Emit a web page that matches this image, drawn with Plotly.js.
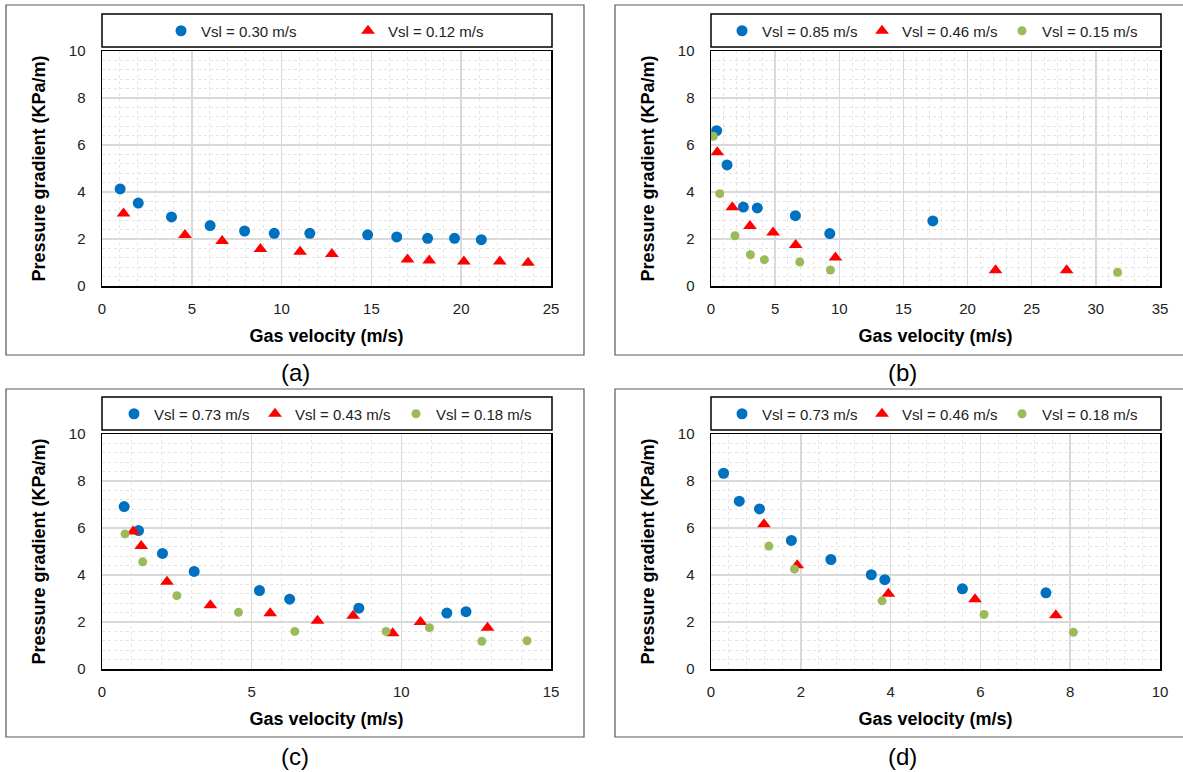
<!DOCTYPE html>
<html><head><meta charset="utf-8">
<script src="https://cdn.plot.ly/plotly-3.0.1.min.js"></script>
<style>html,body{margin:0;padding:0;background:#fff}#chart{width:1183px;height:772px}</style>
</head><body><div id="chart"></div>
<script>
// ---- Panel (a) ----
const aLabels = ['Vsl = 0.30 m/s', 'Vsl = 0.12 m/s'];
const aBlueX = [1.01, 2.02, 3.87, 6.02, 7.94, 9.59, 11.57, 14.79, 16.41, 18.13, 19.63, 21.12];
const aBlueY = [4.13, 3.53, 2.94, 2.57, 2.34, 2.24, 2.24, 2.18, 2.09, 2.03, 2.03, 1.97];
const aRedX = [1.20, 4.62, 6.69, 8.82, 11.03, 12.80, 17.01, 18.22, 20.15, 22.15, 23.72];
const aRedY = [3.09, 2.17, 1.91, 1.57, 1.46, 1.36, 1.13, 1.09, 1.04, 1.04, 0.99];

// ---- Panel (b) ----
const bLabels = ['Vsl = 0.85 m/s', 'Vsl = 0.46 m/s', 'Vsl = 0.15 m/s'];
const bBlueX = [0.44, 1.25, 2.52, 3.61, 6.58, 9.26, 17.29];
const bBlueY = [6.61, 5.15, 3.36, 3.32, 2.99, 2.23, 2.77];
const bRedX = [0.49, 1.66, 3.04, 4.84, 6.60, 9.70, 22.18, 27.72];
const bRedY = [5.69, 3.35, 2.55, 2.28, 1.74, 1.21, 0.67, 0.67];
const bGreenX = [0.18, 0.68, 1.87, 3.07, 4.16, 6.92, 9.31, 31.69];
const bGreenY = [6.37, 3.93, 2.14, 1.33, 1.12, 1.02, 0.68, 0.58];

// ---- Panel (c) ----
const cLabels = ['Vsl = 0.73 m/s', 'Vsl = 0.43 m/s', 'Vsl = 0.18 m/s'];
const cBlueX = [0.74, 1.22, 2.02, 3.08, 5.26, 6.27, 8.58, 11.52, 12.16];
const cBlueY = [6.91, 5.89, 4.92, 4.15, 3.34, 2.97, 2.59, 2.38, 2.44];
const cRedX = [1.04, 1.31, 2.17, 3.62, 5.62, 7.20, 8.39, 9.71, 10.64, 12.88];
const cRedY = [5.85, 5.23, 3.71, 2.71, 2.37, 2.05, 2.27, 1.52, 2.00, 1.75];
const cGreenX = [0.77, 1.36, 2.50, 4.56, 6.44, 9.49, 10.94, 12.69, 14.20];
const cGreenY = [5.75, 4.56, 3.12, 2.41, 1.60, 1.60, 1.76, 1.18, 1.20];

// ---- Panel (d) ----
const dLabels = ['Vsl = 0.73 m/s', 'Vsl = 0.46 m/s', 'Vsl = 0.18 m/s'];
const dBlueX = [0.28, 0.63, 1.08, 1.79, 2.67, 3.57, 3.87, 5.60, 7.46];
const dBlueY = [8.33, 7.14, 6.81, 5.47, 4.66, 4.01, 3.80, 3.41, 3.24];
const dRedX = [1.18, 1.92, 3.95, 5.88, 7.68];
const dRedY = [6.16, 4.41, 3.20, 2.97, 2.29];
const dGreenX = [1.29, 1.86, 3.81, 6.08, 8.07];
const dGreenY = [5.23, 4.25, 2.90, 2.32, 1.56];

const panelNames = ['(a)', '(b)', '(c)', '(d)'];
const xTitle = 'Gas velocity (m/s)';
const yTitle = 'Pressure gradient (KPa/m)';

const W = 1183, H = 772;
const FONT = 'Arial, "Liberation Sans", sans-serif';
const BLUE = '#0070C0', RED = '#FF0000', GREEN = '#9BBB59';
const px = v => v / W;
const py = v => 1 - v / H;

function blue(x, y, name, i, lg) {
  return {type:'scatter', mode:'markers', x, y, name, xaxis:'x'+i, yaxis:'y'+i, legend:lg,
    marker:{symbol:'circle', size:11, color:BLUE}, hoverinfo:'x+y'};
}
function red(x, y, name, i, lg) {
  return {type:'scatter', mode:'markers', x, y, name, xaxis:'x'+i, yaxis:'y'+i, legend:lg,
    marker:{symbol:'triangle-up', size:12, color:RED}, hoverinfo:'x+y'};
}
function green(x, y, name, i, lg) {
  return {type:'scatter', mode:'markers', x, y, name, xaxis:'x'+i, yaxis:'y'+i, legend:lg,
    marker:{symbol:'circle', size:9, color:GREEN}, hoverinfo:'x+y'};
}

const data = [
  blue(aBlueX, aBlueY, aLabels[0], '', 'legend'),
  red(aRedX, aRedY, aLabels[1], '', 'legend'),
  blue(bBlueX, bBlueY, bLabels[0], 2, 'legend2'),
  red(bRedX, bRedY, bLabels[1], 2, 'legend2'),
  green(bGreenX, bGreenY, bLabels[2], 2, 'legend2'),
  blue(cBlueX, cBlueY, cLabels[0], 3, 'legend3'),
  red(cRedX, cRedY, cLabels[1], 3, 'legend3'),
  green(cGreenX, cGreenY, cLabels[2], 3, 'legend3'),
  blue(dBlueX, dBlueY, dLabels[0], 4, 'legend4'),
  red(dRedX, dRedY, dLabels[1], 4, 'legend4'),
  green(dGreenX, dGreenY, dLabels[2], 4, 'legend4')
];

// plot-area pixel boxes
const plotL = [102, 711, 102, 711], plotR = [551, 1160, 551, 1160];
const plotT = [51, 51, 434, 434], plotB = [286, 286, 669, 669];
const xMax = [25, 35, 15, 10], xDt = [5, 5, 5, 2], xMinor = [1, 1, 1, 0.4];

function xax(k) {
  return {
    domain:[px(plotL[k]), px(plotR[k])], anchor: k===0 ? 'y' : 'y'+(k+1),
    range:[0, xMax[k]], dtick:xDt[k], tick0:0, ticks:'', showline:true, mirror:true,
    linecolor:'#000', linewidth:1.5, showgrid:true, gridcolor:'#D9D9D9', gridwidth:1.5,
    zeroline:false, ticklabelstandoff:8,
    minor:{dtick:xMinor[k], showgrid:true, gridcolor:'#E4E4E4', griddash:'dot', gridwidth:1},
    tickfont:{family:FONT, size:15, color:'#222'},
    title:{text:'<b>'+xTitle+'</b>', font:{family:FONT, size:18, color:'#000'}, standoff:14}
  };
}
function yax(k) {
  return {
    domain:[py(plotB[k]), py(plotT[k])], anchor: k===0 ? 'x' : 'x'+(k+1),
    range:[0, 10], dtick:2, tick0:0, ticks:'', showline:true, mirror:true,
    linecolor:'#000', linewidth:1.5, showgrid:true, gridcolor:'#D9D9D9', gridwidth:1.5,
    zeroline:false, ticklabelstandoff:12,
    minor:{dtick:0.4, showgrid:true, gridcolor:'#E4E4E4', griddash:'dot', gridwidth:1},
    tickfont:{family:FONT, size:15, color:'#222'},
    title:{text:'<b>'+yTitle+'</b>', font:{family:FONT, size:18, color:'#000'}, standoff:18}
  };
}

function leg(markerX, cy, entryW) {
  return {orientation:'h', x:px(markerX - 26), xanchor:'left', y:py(cy), yanchor:'middle',
    entrywidth:entryW, entrywidthmode:'pixels', bgcolor:'rgba(0,0,0,0)', borderwidth:0,
    font:{family:FONT, size:15, color:'#222'}, itemclick:false, itemdoubleclick:false};
}

// outer frames and legend frames (pixel coords)
const frames = [[6,5,584,355],[615,5,1195,355],[6,389,584,737],[615,389,1195,737]];
const legBoxes = [[102,14,552,47],[711,14,1161,47],[102,397,552,430],[711,397,1161,430]];
const shapes = [];
frames.forEach(f => shapes.push({type:'rect', xref:'paper', yref:'paper',
  x0:px(f[0]), x1:px(f[2]), y0:py(f[3]), y1:py(f[1]), line:{color:'#595959', width:1.2}}));
legBoxes.forEach(f => shapes.push({type:'rect', xref:'paper', yref:'paper',
  x0:px(f[0]), x1:px(f[2]), y0:py(f[3]), y1:py(f[1]), line:{color:'#000', width:1.5}}));

const labelPos = [[295,373],[902,373],[295,756],[902,756]];
const annotations = labelPos.map((p, k) => ({xref:'paper', yref:'paper', x:px(p[0]), y:py(p[1]),
  xanchor:'center', yanchor:'middle', showarrow:false, text:panelNames[k],
  font:{family:FONT, size:24, color:'#000'}}));

const layout = {
  width:W, height:H, margin:{l:0, r:0, t:0, b:0}, paper_bgcolor:'#fff', plot_bgcolor:'#fff',
  showlegend:true, font:{family:FONT},
  xaxis:xax(0), yaxis:yax(0), xaxis2:xax(1), yaxis2:yax(1),
  xaxis3:xax(2), yaxis3:yax(2), xaxis4:xax(3), yaxis4:yax(3),
  legend:leg(187, 31, 142), legend2:leg(748, 31, 95), legend3:leg(140, 414, 96), legend4:leg(748, 414, 95),
  shapes, annotations
};

Plotly.newPlot('chart', data, layout, {staticPlot:true, displayModeBar:false});
</script></body></html>
